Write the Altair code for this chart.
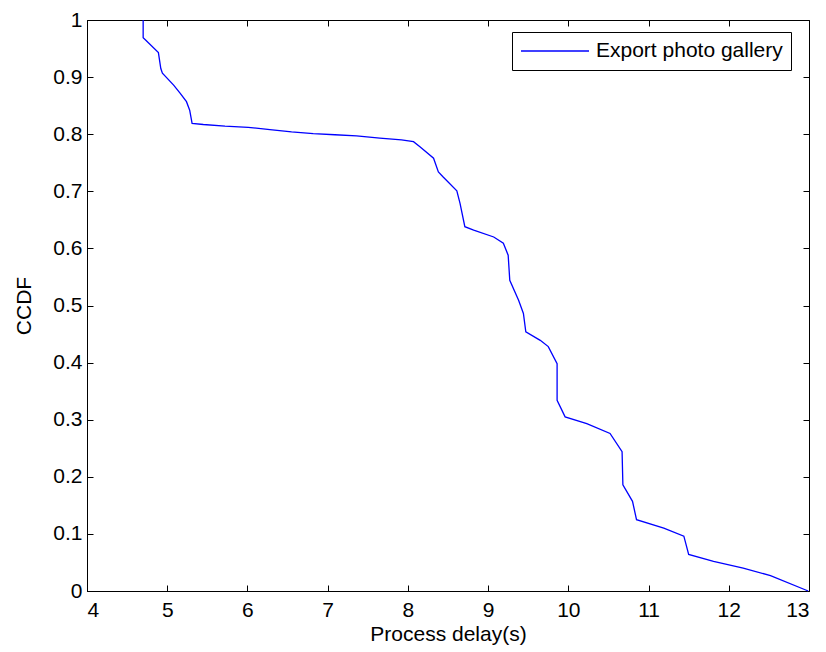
import altair as alt
import pandas as pd

delay = [4.70, 4.70, 4.73, 4.89, 4.92, 4.94, 5.08, 5.16, 5.24, 5.28, 5.31, 5.45,
         5.72, 6.01, 6.28, 6.55, 6.82, 7.09, 7.36, 7.65, 7.92, 8.07, 8.15, 8.32,
         8.38, 8.44, 8.61, 8.65, 8.71, 8.82, 9.07, 9.19, 9.25, 9.27, 9.38, 9.44,
         9.47, 9.65, 9.75, 9.86, 9.86, 9.96, 10.23, 10.52, 10.67, 10.68, 10.80,
         10.85, 11.19, 11.44, 11.50, 11.81, 12.18, 12.52, 12.99]
ccdf = [1.0, 0.969, 0.965, 0.943, 0.915, 0.907, 0.886, 0.872, 0.857, 0.842, 0.819,
        0.817, 0.814, 0.812, 0.808, 0.804, 0.801, 0.799, 0.797, 0.793, 0.790, 0.787,
        0.778, 0.758, 0.734, 0.725, 0.701, 0.679, 0.638, 0.632, 0.620, 0.609, 0.588,
        0.544, 0.509, 0.486, 0.454, 0.439, 0.428, 0.398, 0.334, 0.305, 0.293, 0.276,
        0.244, 0.186, 0.157, 0.125, 0.110, 0.096, 0.064, 0.052, 0.040, 0.027, 0.0]
series_name = "Export photo gallery"
x_ticks = [4, 5, 6, 7, 8, 9, 10, 11, 12, 13]
y_ticks = [0, 0.1, 0.2, 0.3, 0.4, 0.5, 0.6, 0.7, 0.8, 0.9, 1]

df = pd.DataFrame({"delay": delay, "ccdf": ccdf, "idx": list(range(len(delay))),
                   "series": [series_name] * len(delay)})

FONT = "Liberation Sans"
FS = 21
xscale = alt.Scale(domain=[4, 13], nice=False, zero=False)
yscale = alt.Scale(domain=[0, 1], nice=False)

main = alt.Chart(df).mark_line(strokeWidth=1.3).encode(
    x=alt.X("delay:Q", scale=xscale,
            axis=alt.Axis(values=x_ticks, title="Process delay(s)", orient="bottom",
                          ticks=False, grid=True, gridDash=[6, 2000], gridColor="black",
                          gridOpacity=1, gridWidth=1, labelPadding=8, titlePadding=3)),
    y=alt.Y("ccdf:Q", scale=yscale,
            axis=alt.Axis(values=y_ticks, title="CCDF", orient="left", format="~g",
                          ticks=False, grid=True, gridDash=[6, 2000], gridColor="black",
                          gridOpacity=1, gridWidth=1, labelPadding=5, titlePadding=18)),
    color=alt.Color("series:N", scale=alt.Scale(domain=[series_name], range=["#0000ff"]),
                    legend=alt.Legend(title=None, orient="none", legendX=425, legendY=12,
                                      strokeColor="black", fillColor="white", padding=8,
                                      cornerRadius=0, symbolType="stroke",
                                      symbolSize=4624, symbolStrokeWidth=1.5,
                                      clipHeight=22, labelLimit=0,
                                      labelFontSize=FS, labelFont=FONT, labelOffset=6,
                                      labelColor="black")),
    order="idx:Q",
)

ticks2 = alt.Chart(df).mark_line(opacity=0).encode(
    x=alt.X("delay:Q", scale=xscale,
            axis=alt.Axis(values=x_ticks, title=None, orient="top", labels=False,
                          domain=False, ticks=False, grid=True, gridDash=[6, 2000],
                          gridColor="black", gridOpacity=1, gridWidth=1)),
    y=alt.Y("ccdf:Q", scale=yscale,
            axis=alt.Axis(values=y_ticks, title=None, orient="right", labels=False,
                          domain=False, ticks=False, grid=True, gridDash=[6, 2000],
                          gridColor="black", gridOpacity=1, gridWidth=1)),
    order="idx:Q",
)

chart = alt.layer(main, ticks2).resolve_axis(x="independent", y="independent").properties(
    width=722, height=571,
    autosize=alt.AutoSizeParams(type="none"),
    padding={"left": 79, "top": 12, "right": 9, "bottom": 60},
    background="white",
).configure_view(stroke="black", strokeWidth=1).configure_axis(
    labelFont=FONT, titleFont=FONT, labelFontSize=FS, titleFontSize=FS,
    labelColor="black", titleColor="black", titleFontWeight="normal",
    domainColor="black", domainWidth=1,
)

chart.save("out.html", embed_options={"renderer": "svg", "actions": False})
